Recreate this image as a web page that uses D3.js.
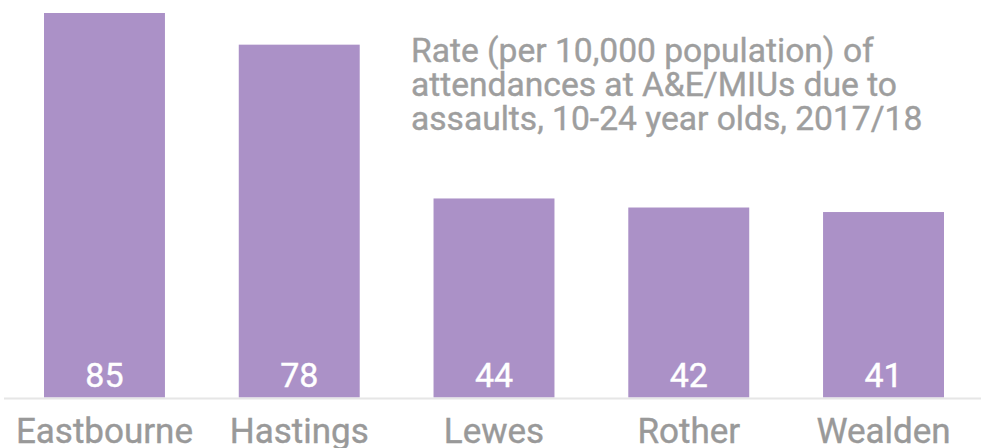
<!DOCTYPE html>
<html>
<head>
<meta charset="utf-8">
<script src="https://cdn.jsdelivr.net/npm/d3@7"></script>
<style>
body { margin: 0; background: #fff; }
svg text { font-family: Roboto, sans-serif; font-weight: 400; }
</style>
</head>
<body>
<svg id="chart" width="981" height="448"></svg>
<script>
var districts = ['Eastbourne', 'Hastings', 'Lewes', 'Rother', 'Wealden'];
var rates = [85, 78, 44, 42, 41];
var titleLines = [
    'Rate (per 10,000 population) of',
    'attendances at A&E/MIUs due to',
    'assaults, 10-24 year olds, 2017/18'
];

var svg = d3.select('#chart');
var baseY = 397.5;

var x = d3.scaleBand()
    .domain(districts)
    .range([44, 944])
    .paddingInner(0.379)
    .paddingOuter(0);

var y = d3.scaleLinear()
    .domain([0, 85])
    .range([baseY, 13]);

var data = districts.map(function (d, i) {
    return {name: d, value: rates[i]};
});

function cx(d) { return x(d.name) + x.bandwidth() / 2; }

// bars
svg.selectAll('rect.bar').data(data)
    .enter()
    .append('rect')
    .attr('class', 'bar')
    .attr('x', function (d) { return x(d.name); })
    .attr('y', function (d) { return y(d.value); })
    .attr('width', x.bandwidth())
    .attr('height', function (d) { return baseY - y(d.value); })
    .attr('fill', '#ab91c7');

// baseline
svg.append('line')
    .attr('x1', 4).attr('x2', 981)
    .attr('y1', baseY + 1).attr('y2', baseY + 1)
    .attr('stroke', '#e6e6e6')
    .attr('stroke-width', 2);

// value labels inside bars
svg.selectAll('text.val').data(data)
    .enter()
    .append('text')
    .attr('class', 'val')
    .attr('x', cx)
    .attr('y', 386.5)
    .attr('text-anchor', 'middle')
    .attr('fill', '#fff')
    .attr('stroke', '#fff')
    .attr('stroke-width', 0.4)
    .attr('font-size', '34px')
    .text(function (d) { return d.value; });

// category labels
svg.selectAll('text.cat').data(data)
    .enter()
    .append('text')
    .attr('class', 'cat')
    .attr('x', cx)
    .attr('y', 443)
    .attr('text-anchor', 'middle')
    .attr('fill', '#999999')
    .attr('stroke', '#999999')
    .attr('stroke-width', 0.4)
    .attr('font-size', '35px')
    .text(function (d) { return d.name; });

// title
svg.append('g')
    .selectAll('text').data(titleLines)
    .enter()
    .append('text')
    .attr('x', 411)
    .attr('y', function (d, i) { return 61.5 + i * 34; })
    .attr('fill', '#9e9e9e')
    .attr('stroke', '#9e9e9e')
    .attr('stroke-width', 0.4)
    .attr('font-size', '33.6px')
    .text(function (d) { return d; });
</script>
</body>
</html>
